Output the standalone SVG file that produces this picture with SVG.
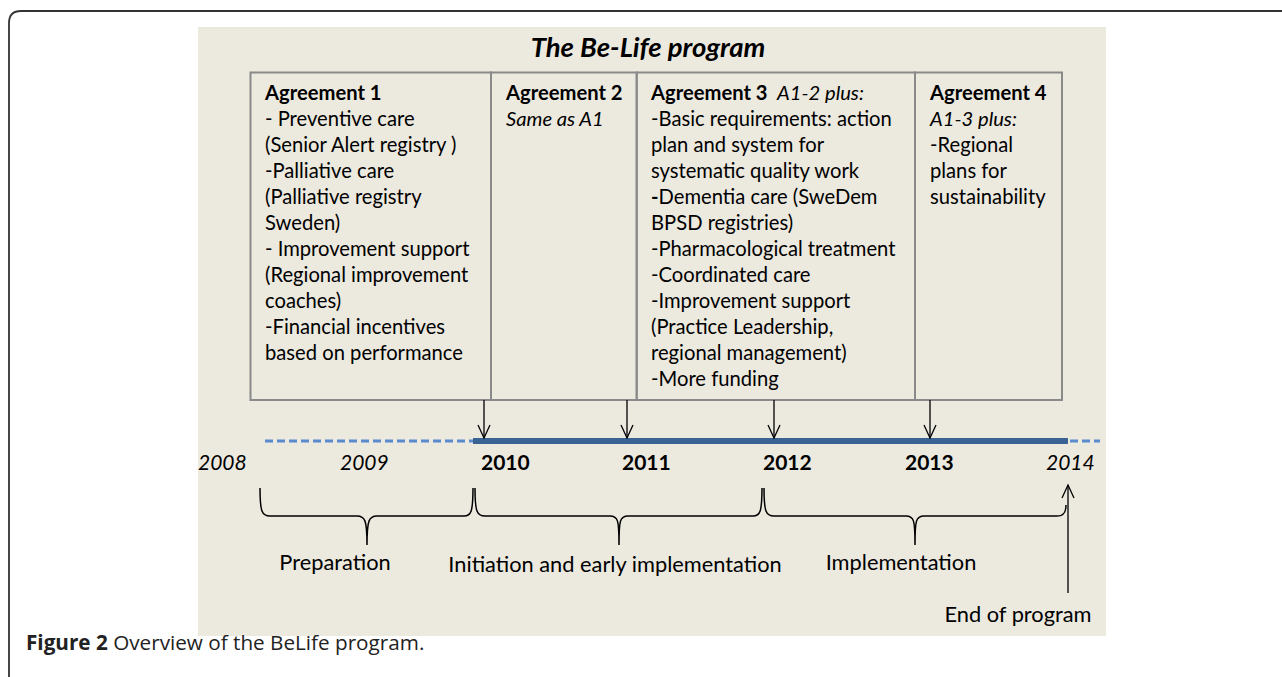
<svg xmlns="http://www.w3.org/2000/svg" width="1282" height="677" viewBox="0 0 1282 677">
  <defs>
    <style>
      .t { font-family: Lato, "Liberation Sans", sans-serif; font-size: 20.2px; fill: #000; }
      .b { font-weight: bold; }
      .i { font-style: italic; }
      .yr { font-size: 21px; }
      .ph { font-size: 21.8px; }
      .box { fill: none; stroke: #8a8a8a; stroke-width: 2; }
      .arrow { fill: none; stroke: #000; stroke-width: 1.3; }
      .brace { fill: none; stroke: #000; stroke-width: 1.5; }
      .cap { font-family: "Open Sans", "Noto Sans", sans-serif; font-size: 20.7px; fill: #222; }
    </style>
    <marker id="head" markerWidth="16" markerHeight="16" refX="14" refY="8" orient="auto" markerUnits="userSpaceOnUse" viewBox="0 0 16 16">
      <path d="M1,2 L14,8 L1,14" fill="none" stroke="#000" stroke-width="1.3"/>
    </marker>
  </defs>

  <rect width="1282" height="677" fill="#fff"/>
  <!-- outer frame -->
  <path d="M9,677 V23 Q9,11 21,11 H1282" fill="none" stroke="#333" stroke-width="1.8"/>

  <!-- panel -->
  <rect x="198" y="27" width="908" height="609" fill="#ece9df"/>

  <text class="t b i" x="648" y="57" text-anchor="middle" style="font-size:27.5px">The Be-Life program</text>

  <!-- agreements -->
  <g id="agreement1">
    <rect class="box" x="250.5" y="72.5" width="240.5" height="327.5"/>
    <text class="t" x="265" y="100">
      <tspan class="b" x="265" y="100">Agreement 1</tspan>
      <tspan x="265" y="126">- Preventive care</tspan>
      <tspan x="265" y="152">(Senior Alert registry )</tspan>
      <tspan x="265" y="178">-Palliative care</tspan>
      <tspan x="265" y="204">(Palliative registry</tspan>
      <tspan x="265" y="230">Sweden)</tspan>
      <tspan x="265" y="256">- Improvement support</tspan>
      <tspan x="265" y="282">(Regional improvement</tspan>
      <tspan x="265" y="308">coaches)</tspan>
      <tspan x="265" y="334">-Financial incentives</tspan>
      <tspan x="265" y="360">based on performance</tspan>
    </text>
  </g>
  <g id="agreement2">
    <rect class="box" x="491" y="72.5" width="145.7" height="327.5"/>
    <text class="t" x="506" y="100">
      <tspan class="b" x="506" y="100">Agreement 2</tspan>
      <tspan class="i" x="506" y="126">Same as A1</tspan>
    </text>
  </g>
  <g id="agreement3">
    <rect class="box" x="636.7" y="72.5" width="278.3" height="327.5"/>
    <text class="t" x="651" y="100">
      <tspan class="b" x="651" y="100">Agreement 3</tspan><tspan class="i" x="777" y="100">A1-2 plus:</tspan>
      <tspan x="651" y="126">-Basic requirements: action</tspan>
      <tspan x="651" y="152">plan and system for</tspan>
      <tspan x="651" y="178">systematic quality work</tspan>
      <tspan x="651" y="204"><tspan class="b">-</tspan>Dementia care (SweDem</tspan>
      <tspan x="651" y="230">BPSD registries)</tspan>
      <tspan x="651" y="256">-Pharmacological treatment</tspan>
      <tspan x="651" y="282">-Coordinated care</tspan>
      <tspan x="651" y="308">-Improvement support</tspan>
      <tspan x="651" y="334">(Practice Leadership,</tspan>
      <tspan x="651" y="360">regional management)</tspan>
      <tspan x="651" y="386">-More funding</tspan>
    </text>
  </g>
  <g id="agreement4">
    <rect class="box" x="915" y="72.5" width="147" height="327.5"/>
    <text class="t" x="930" y="100">
      <tspan class="b" x="930" y="100">Agreement 4</tspan>
      <tspan class="i" x="930" y="126">A1-3 plus:</tspan>
      <tspan x="930" y="152">-Regional</tspan>
      <tspan x="930" y="178">plans for</tspan>
      <tspan x="930" y="204">sustainability</tspan>
    </text>
  </g>

  <!-- timeline -->
  <g id="timeline">
    <line x1="265" y1="441" x2="473" y2="441" stroke="#5b8bcf" stroke-width="3" stroke-dasharray="8,4"/>
    <line x1="473" y1="441" x2="1068" y2="441" stroke="#3a6394" stroke-width="6"/>
    <line x1="1070" y1="441" x2="1100" y2="441" stroke="#5b8bcf" stroke-width="3" stroke-dasharray="8,4"/>
  </g>

  <g id="years">
    <text class="t i yr" x="198" y="470">2008</text>
    <text class="t i yr" x="340" y="470">2009</text>
    <text class="t b yr" x="481" y="470">2010</text>
    <text class="t b yr" x="622" y="470">2011</text>
    <text class="t b yr" x="763" y="470">2012</text>
    <text class="t b yr" x="905" y="470">2013</text>
    <text class="t i yr" x="1046" y="470">2014</text>
  </g>

  <!-- connectors -->
  <g id="connectors">
    <line class="arrow" x1="484" y1="400" x2="484" y2="438" marker-end="url(#head)"/>
    <line class="arrow" x1="627" y1="400" x2="627" y2="438" marker-end="url(#head)"/>
    <line class="arrow" x1="774" y1="400" x2="774" y2="438" marker-end="url(#head)"/>
    <line class="arrow" x1="930" y1="400" x2="930" y2="438" marker-end="url(#head)"/>
    <line class="arrow" x1="1068" y1="593" x2="1068" y2="485" marker-end="url(#head)"/>
  </g>

  <!-- phase braces -->
  <g id="braces">
    <path class="brace" d="M260,488 C260,512 262,516 270,516 L357,516 C365,516 367,520 367,545 C367,520 369,516 377,516 L464,516 C471,516 473,512 473,488"/>
    <path class="brace" d="M475,488 C475,512 477,516 485,516 L610,516 C618,516 619,520 619,545 C619,520 620,516 628,516 L753,516 C760,516 762,512 762,488"/>
    <path class="brace" d="M764,488 C764,512 766,516 774,516 L906,516 C914,516 915,520 915,545 C915,520 916,516 924,516 L1057,516 C1064,516 1066,512 1066,505"/>
  </g>

  <g id="phases">
    <text class="t ph" x="335" y="570" text-anchor="middle">Preparation</text>
    <text class="t ph" x="615" y="572" text-anchor="middle">Initiation and early implementation</text>
    <text class="t ph" x="901" y="570" text-anchor="middle">Implementation</text>
    <text class="t ph" x="1018" y="622" text-anchor="middle">End of program</text>
  </g>

  <text class="cap" x="26" y="650"><tspan font-weight="bold">Figure 2</tspan> Overview of the BeLife program.</text>
</svg>
